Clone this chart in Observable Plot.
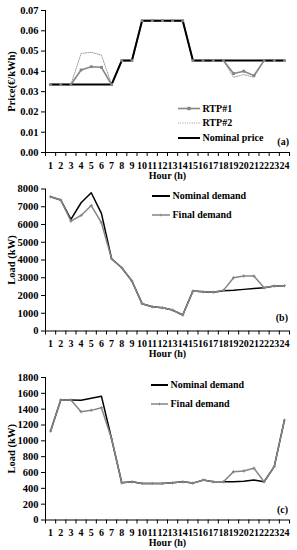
<!DOCTYPE html>
<html><head><meta charset="utf-8">
<script src="https://cdn.jsdelivr.net/npm/d3@7"></script>
<script src="https://cdn.jsdelivr.net/npm/@observablehq/plot@0.6"></script>
<style>
body{margin:0;background:#fff}
#chart{width:297px}
#chart svg{display:block}
</style></head>
<body><div id="chart"></div>
<script>
// ---- data ----
const hours = [1,2,3,4,5,6,7,8,9,10,11,12,13,14,15,16,17,18,19,20,21,22,23,24];
const hourEdges = [0.5,1.5,2.5,3.5,4.5,5.5,6.5,7.5,8.5,9.5,10.5,11.5,12.5,13.5,14.5,15.5,16.5,17.5,18.5,19.5,20.5,21.5,22.5,23.5,24.5];

const priceTicks = [0,0.01,0.02,0.03,0.04,0.05,0.06,0.07];
const priceNominal = [0.0335,0.0335,0.0335,0.0335,0.0335,0.0335,0.0335,0.0453,0.0453,0.065,0.065,0.065,0.065,0.065,0.0453,0.0453,0.0453,0.0453,0.0453,0.0453,0.0453,0.0453,0.0453,0.0453];
const priceRTP1 = [0.0335,0.0335,0.0335,0.0407,0.0423,0.0420,0.0335,0.0453,0.0453,0.065,0.065,0.065,0.065,0.065,0.0453,0.0453,0.0453,0.0453,0.0389,0.0401,0.0379,0.0453,0.0453,0.0453];
const priceRTP2 = [0.0335,0.0335,0.0335,0.0488,0.0494,0.0480,0.0335,0.0453,0.0453,0.065,0.065,0.065,0.065,0.065,0.0453,0.0453,0.0453,0.0453,0.0371,0.0384,0.0371,0.0453,0.0453,0.0453];

const loadBTicks = [0,1000,2000,3000,4000,5000,6000,7000,8000];
const loadBNominal = [7560,7380,6285,7225,7790,6625,4070,3565,2815,1540,1370,1315,1180,900,2250,2215,2180,2270,2290,2345,2400,2440,2530,2555];
const loadBFinal   = [7560,7380,6190,6510,7070,6100,4070,3565,2815,1540,1370,1315,1180,900,2250,2215,2180,2290,3000,3095,3095,2440,2530,2555];

const loadCTicks = [0,200,400,600,800,1000,1200,1400,1600,1800];
const loadCNominal = [1124,1517,1517,1513,1538,1564,1026,470,483,462,462,462,470,483,466,504,483,483,483,491,504,483,675,1261];
const loadCFinal   = [1124,1517,1517,1368,1385,1419,1026,470,483,462,462,462,470,483,466,504,483,483,611,620,654,483,675,1261];

// ---- helpers ----
const FONT = "Liberation Serif, Times New Roman, serif";
const GRAY = "#858585";
const rows = (vals) => hours.map((h, i) => ({hour: h, value: vals[i]}));

function panel({height, marginTop, marginBottom, yMax, yTicks, yFormat, yLabel, marks}) {
  return Plot.plot({
    width: 297, height, marginLeft: 45, marginRight: 8, marginTop, marginBottom,
    x: {domain: [0.5, 24.5]},
    y: {domain: [0, yMax]},
    style: {fontFamily: FONT, fontSize: "10px", fontWeight: "bold", color: "#000", background: "#fff", overflow: "visible"},
    marks: [
      Plot.axisY(yTicks, {tickSize: 4, tickPadding: 3, tickFormat: yFormat, fontWeight: "bold", fontSize: 10.5,
        label: yLabel, labelAnchor: "center", labelOffset: 38, labelArrow: "none"}),
      Plot.axisX(hours, {tickSize: 0, tickPadding: 9, tickFormat: d => String(d), fontWeight: "bold",
        label: "Hour (h)", labelAnchor: "center", labelOffset: 26, labelArrow: "none"}),
      Plot.axisX(hourEdges, {tickSize: 4, tickFormat: () => "", label: null}),
      Plot.ruleY([0], {stroke: "#000"}),
      Plot.ruleX([0.5], {stroke: "#000"}),
      ...marks
    ]
  });
}

function addLegend(svg, items, tag) {
  const g = d3.select(svg).append("g").attr("font-family", FONT).attr("font-size", 10).attr("font-weight", "bold");
  for (const it of items) {
    g.append("line").attr("x1", it.x1).attr("x2", it.x2).attr("y1", it.y).attr("y2", it.y)
      .attr("stroke", it.stroke).attr("stroke-width", it.width).attr("stroke-dasharray", it.dash || null);
    if (it.marker === "square") {
      const mx = (it.x1 + it.x2) / 2;
      g.append("rect").attr("x", mx - 1.7).attr("y", it.y - 1.7).attr("width", 3.4).attr("height", 3.4).attr("fill", it.stroke);
    } else if (it.marker === "plus") {
      const mx = (it.x1 + it.x2) / 2;
      g.append("line").attr("x1", mx).attr("x2", mx).attr("y1", it.y - 1.3).attr("y2", it.y + 1.3).attr("stroke", it.stroke);
    }
    g.append("text").attr("x", it.x2 + 2.5).attr("y", it.y).attr("dy", "0.32em").attr("text-anchor", "start").text(it.label);
  }
  g.append("text").attr("x", tag.x).attr("y", tag.y).attr("dy", "0.32em").attr("text-anchor", "end").text(tag.text);
}

const chart = document.getElementById("chart");

// (a) price
const pa = panel({
  height: 178, marginTop: 10, marginBottom: 26, yMax: 0.07, yTicks: priceTicks,
  yFormat: d3.format(".2f"), yLabel: "Price(€/kWh)",
  marks: [
    Plot.line(rows(priceRTP2), {x: "hour", y: "value", stroke: "#9a9a9a", strokeWidth: 1, strokeDasharray: "1,1.3"}),
    Plot.line(rows(priceRTP1), {x: "hour", y: "value", stroke: GRAY, strokeWidth: 1.6}),
    Plot.line(rows(priceNominal), {x: "hour", y: "value", stroke: "#000", strokeWidth: 2}),
    Plot.dot(rows(priceRTP1), {x: "hour", y: "value", symbol: "square", r: 1.6, fill: GRAY, stroke: "none"})
  ]
});
addLegend(pa, [
  {x1: 178, x2: 200, y: 108.5, stroke: GRAY, width: 1.6, marker: "square", label: "RTP#1"},
  {x1: 178, x2: 200, y: 123, stroke: "#9a9a9a", width: 1, dash: "1,1.3", label: "RTP#2"},
  {x1: 178, x2: 200, y: 138, stroke: "#000", width: 2, label: "Nominal price"}
], {x: 289, y: 141.5, text: "(a)"});
chart.appendChild(pa);

// (b) load
const pb = panel({
  height: 187, marginTop: 10.5, marginBottom: 34.5, yMax: 8000, yTicks: loadBTicks,
  yFormat: d3.format("d"), yLabel: "Load (kW)",
  marks: [
    Plot.line(rows(loadBNominal), {x: "hour", y: "value", stroke: "#000", strokeWidth: 1.5}),
    Plot.line(rows(loadBFinal), {x: "hour", y: "value", stroke: GRAY, strokeWidth: 1.5}),
    Plot.dot(rows(loadBFinal), {x: "hour", y: "value", symbol: "plus", r: 1.1, stroke: GRAY, strokeWidth: 1})
  ]
});
addLegend(pb, [
  {x1: 152, x2: 170, y: 18, stroke: "#000", width: 2, label: "Nominal demand"},
  {x1: 152, x2: 170, y: 37, stroke: GRAY, width: 1.5, marker: "plus", label: "Final demand"}
], {x: 288, y: 140, text: "(b)"});
chart.appendChild(pb);

// (c) load
const pc = panel({
  height: 185, marginTop: 12, marginBottom: 30.5, yMax: 1800, yTicks: loadCTicks,
  yFormat: d3.format("d"), yLabel: "Load (kW)",
  marks: [
    Plot.line(rows(loadCNominal), {x: "hour", y: "value", stroke: "#000", strokeWidth: 1.5}),
    Plot.line(rows(loadCFinal), {x: "hour", y: "value", stroke: GRAY, strokeWidth: 1.5}),
    Plot.dot(rows(loadCFinal), {x: "hour", y: "value", symbol: "plus", r: 1.1, stroke: GRAY, strokeWidth: 1})
  ]
});
addLegend(pc, [
  {x1: 151, x2: 168, y: 20, stroke: "#000", width: 2, label: "Nominal demand"},
  {x1: 151, x2: 168, y: 39, stroke: GRAY, width: 1.5, marker: "plus", label: "Final demand"}
], {x: 288, y: 145, text: "(c)"});
chart.appendChild(pc);
</script>
</body></html>
